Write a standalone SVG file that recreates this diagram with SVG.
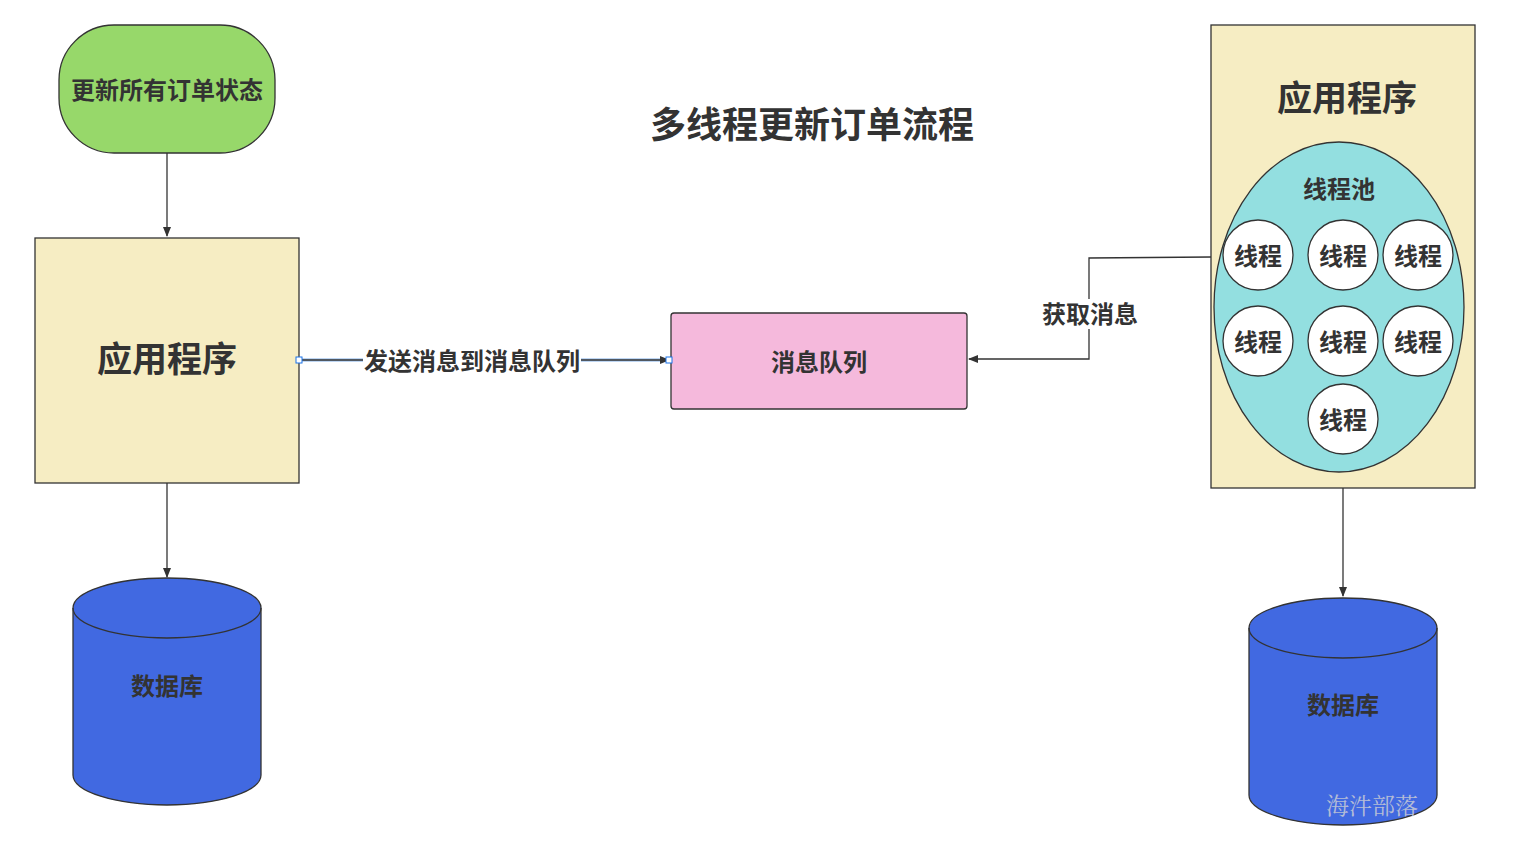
<svg xmlns="http://www.w3.org/2000/svg" width="1519" height="853" viewBox="0 0 1519 853">
<style>
text{font-family:"Noto Sans CJK SC","Liberation Sans",sans-serif;font-weight:bold;fill:#333;text-anchor:middle;dominant-baseline:central}
.s{stroke:#333;stroke-width:1.3}
.ln{fill:none;stroke:#333;stroke-width:1.3}
.t22{font-size:24px}
.t34{font-size:35px}
.th{fill:#fff;stroke:#333;stroke-width:1.3}
</style>
<defs>
<marker id="ah" markerWidth="10" markerHeight="8" refX="9" refY="4" orient="auto" markerUnits="userSpaceOnUse">
<path d="M0,0 L10,4 L0,8 Z" fill="#333"/>
</marker>
</defs>
<rect width="1519" height="853" fill="#fff"/>
<text x="812" y="122" style="font-size:36px">多线程更新订单流程</text>
<g id="start">
<rect class="s" x="59" y="25" width="216" height="128" rx="55" ry="55" fill="#97d86a"/>
<text class="t22" x="167" y="88">更新所有订单状态</text>
</g>
<g id="app-left">
<rect class="s" x="35" y="238" width="264" height="245" fill="#f6edc3"/>
<text class="t34" x="167" y="356">应用程序</text>
</g>
<g id="db-left">
<path class="s" d="M73,608 A94,30 0 0 1 261,608 L261,775 A94,30 0 0 1 73,775 Z" fill="#4169e1"/>
<path class="ln" d="M73,608 A94,30 0 0 0 261,608"/>
<text class="t22" x="167" y="684">数据库</text>
</g>
<g id="mq">
<rect class="s" x="671" y="313" width="296" height="96" rx="3" fill="#f5b9dc"/>
<text class="t22" x="819" y="360">消息队列</text>
</g>
<g id="app-right">
<rect class="s" x="1211" y="25" width="264" height="463" fill="#f6edc3"/>
<text class="t34" x="1347" y="95">应用程序</text>
<ellipse class="s" cx="1339" cy="307" rx="125" ry="165" fill="#93dfe0"/>
<text class="t22" x="1339" y="187">线程池</text>
</g>
<g id="thread1"><circle class="th" cx="1258" cy="255" r="35"/><text class="t22" x="1258" y="254">线程</text></g>
<g id="thread2"><circle class="th" cx="1343" cy="255" r="35"/><text class="t22" x="1343" y="254">线程</text></g>
<g id="thread3"><circle class="th" cx="1418" cy="255" r="35"/><text class="t22" x="1418" y="254">线程</text></g>
<g id="thread4"><circle class="th" cx="1258" cy="341" r="35"/><text class="t22" x="1258" y="340">线程</text></g>
<g id="thread5"><circle class="th" cx="1343" cy="341" r="35"/><text class="t22" x="1343" y="340">线程</text></g>
<g id="thread6"><circle class="th" cx="1418" cy="341" r="35"/><text class="t22" x="1418" y="340">线程</text></g>
<g id="thread7"><circle class="th" cx="1343" cy="419" r="35"/><text class="t22" x="1343" y="418">线程</text></g>
<g id="db-right">
<path class="s" d="M1249,628 A94,30 0 0 1 1437,628 L1437,795 A94,30 0 0 1 1249,795 Z" fill="#4169e1"/>
<path class="ln" d="M1249,628 A94,30 0 0 0 1437,628"/>
<text class="t22" x="1343" y="703">数据库</text>
<text x="1372" y="804" style="font-family:'Noto Serif CJK SC','Noto Sans CJK SC',serif;font-weight:normal;font-size:23px;fill:#b4bcd6">海汼部落</text>
</g>
<g id="connectors">
<path class="ln" d="M167,153 L167,236" marker-end="url(#ah)"/>
<path class="ln" d="M167,483 L167,577" marker-end="url(#ah)"/>
<path class="ln" d="M1343,488 L1343,596" marker-end="url(#ah)"/>
<path d="M299,360 L669,360" fill="none" stroke="#a9c8ef" stroke-width="3.5"/>
<path class="ln" d="M299,360 L669,360" stroke="#2f3e5a" marker-end="url(#ah)"/>
<rect x="363" y="346" width="218" height="30" fill="#fff"/>
<text class="t22" x="472" y="359">发送消息到消息队列</text>
<rect x="296" y="357" width="6" height="6" fill="#fff" stroke="#1a73e8" stroke-width="1"/>
<rect x="666" y="357" width="6" height="6" fill="#fff" stroke="#1a73e8" stroke-width="1"/>
<path class="ln" d="M1211,257 L1089,258 L1089,359 L969,359" marker-end="url(#ah)"/>
<rect x="1041" y="299" width="98" height="30" fill="#fff"/>
<text class="t22" x="1090" y="312">获取消息</text>
</g>
</svg>
